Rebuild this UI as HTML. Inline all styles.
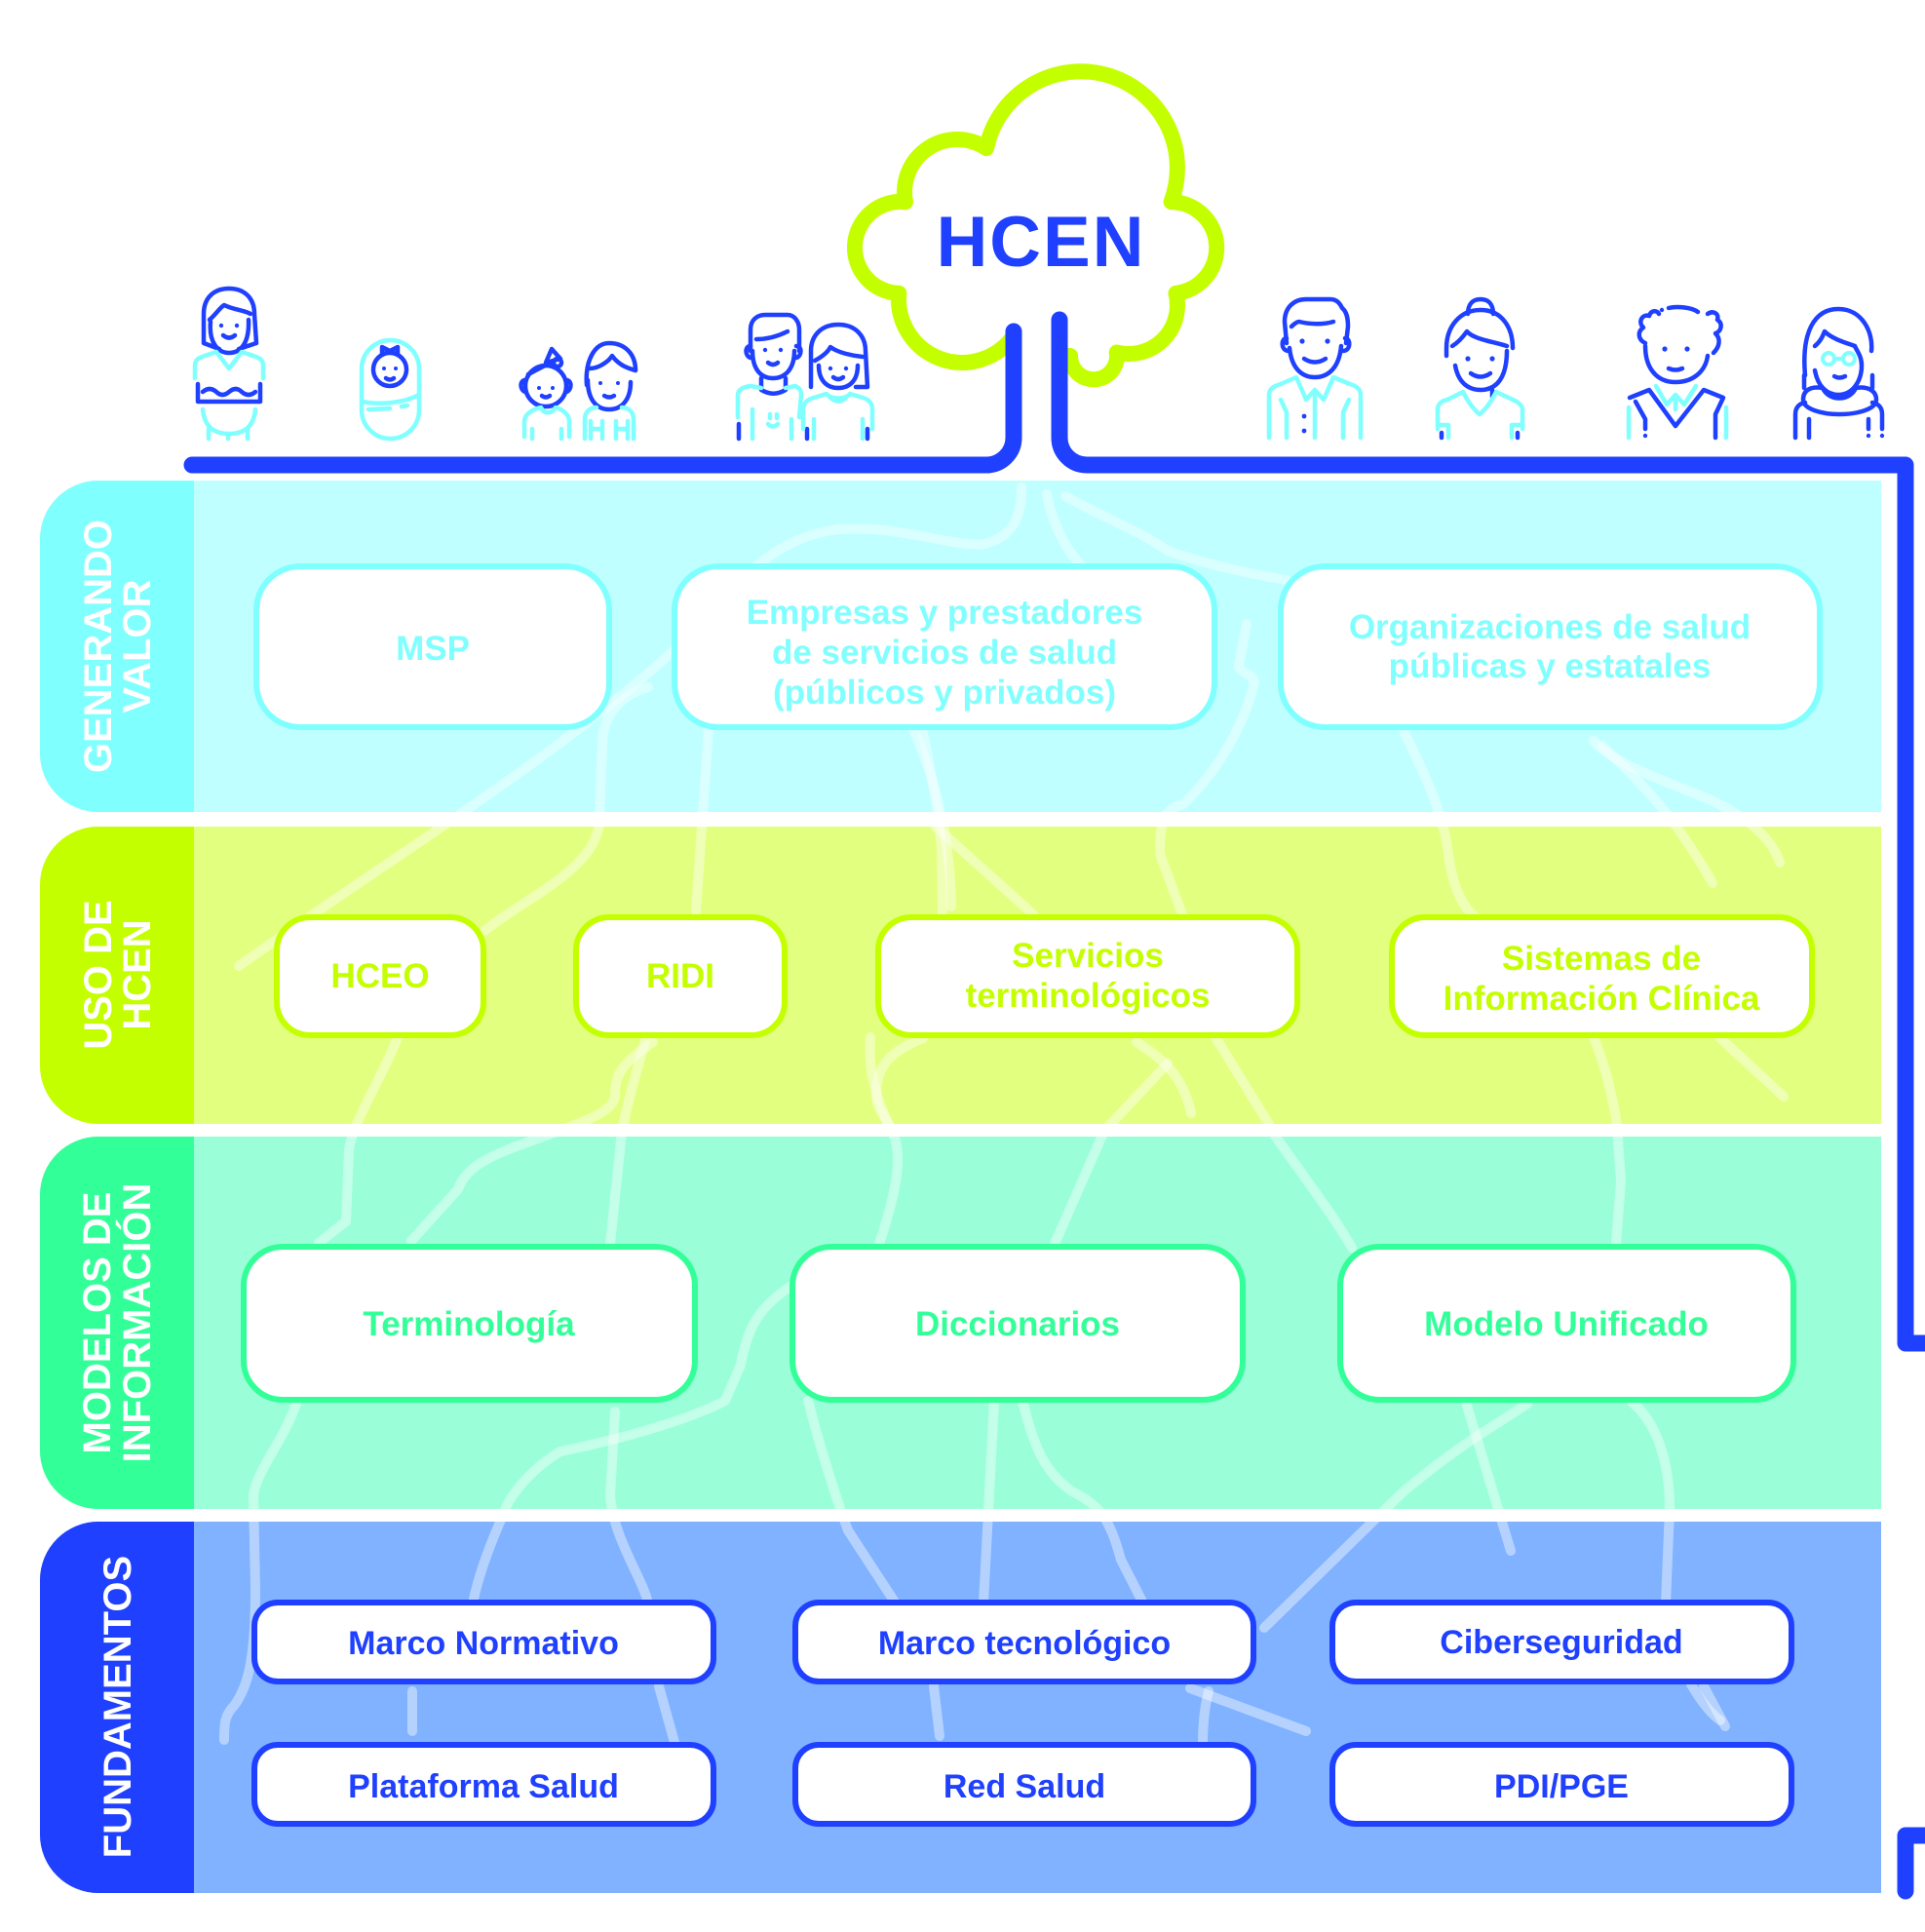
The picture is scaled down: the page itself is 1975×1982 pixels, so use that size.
<!DOCTYPE html>
<html><head><meta charset="utf-8">
<style>
html,body{margin:0;padding:0;background:#fff;}
body{width:1975px;height:1982px;overflow:hidden;}
svg{display:block;}
</style></head>
<body>
<svg xmlns="http://www.w3.org/2000/svg" width="1975" height="1982" viewBox="0 0 1975 1982">
<defs>
<clipPath id="bgclip">
<rect x="199" y="493" width="1731" height="340"/>
<rect x="199" y="848" width="1731" height="305"/>
<rect x="199" y="1166" width="1731" height="382"/>
<rect x="199" y="1561" width="1731" height="381"/>
</clipPath>
</defs>

<!-- Panels -->
<path d="M101 493 H1930 V833 H101 A60 60 0 0 1 41 773 V553 A60 60 0 0 1 101 493 Z" fill="#C0FFFF"/>
<path d="M101 493 H199 V833 H101 A60 60 0 0 1 41 773 V553 A60 60 0 0 1 101 493 Z" fill="#80FFFF"/>
<path d="M101 848 H1930 V1153 H101 A60 60 0 0 1 41 1093 V908 A60 60 0 0 1 101 848 Z" fill="#E3FF80"/>
<path d="M101 848 H199 V1153 H101 A60 60 0 0 1 41 1093 V908 A60 60 0 0 1 101 848 Z" fill="#C4FF00"/>
<path d="M101 1166 H1930 V1548 H101 A60 60 0 0 1 41 1488 V1226 A60 60 0 0 1 101 1166 Z" fill="#9AFFD9"/>
<path d="M101 1166 H199 V1548 H101 A60 60 0 0 1 41 1488 V1226 A60 60 0 0 1 101 1166 Z" fill="#33FF99"/>
<path d="M101 1561 H1930 V1942 H101 A60 60 0 0 1 41 1882 V1621 A60 60 0 0 1 101 1561 Z" fill="#80B2FF"/>
<path d="M101 1561 H199 V1942 H101 A60 60 0 0 1 41 1882 V1621 A60 60 0 0 1 101 1561 Z" fill="#1F40FF"/>

<!-- Roots -->
<g clip-path="url(#bgclip)" fill="none" stroke="#ffffff" stroke-opacity="0.42" stroke-width="10" stroke-linecap="round" stroke-linejoin="round">
<path d="M245 991 C400 880 600 760 720 640 C760 590 800 550 860 543 C920 538 980 562 1010 558 C1040 550 1048 530 1048 500"/>
<path d="M497 955 C540 920 615 890 615 840 L618 760 C620 730 640 712 665 705"/>
<path d="M727 748 L714 935"/>
<path d="M670 1069 C640 1090 631 1100 631 1123 C631 1140 600 1150 574 1160 C520 1180 480 1190 470 1220 L422 1273"/>
<path d="M937 748 C960 800 975 860 976 930"/>
<path d="M960 848 L1060 938"/>
<path d="M408 1064 C390 1110 362 1150 358 1180 L355 1253 L327 1275"/>
<path d="M663 1064 C650 1110 638 1150 636 1180 L626 1276"/>
<path d="M893 1064 C890 1100 900 1130 915 1160 C925 1180 924 1210 902 1276"/>
<path d="M1074 507 C1078 530 1090 560 1109 580"/>
<path d="M1093 509 C1130 530 1170 545 1198 565 C1240 580 1290 590 1320 595"/>
<path d="M1279 640 L1271 683 C1270 690 1285 690 1287 700 C1280 730 1260 780 1214 825 C1195 830 1190 840 1190 876 L1214 941"/>
<path d="M947 752 C955 790 963 833 966 870 L967 941"/>
<path d="M1441 752 C1460 790 1480 833 1485 870 C1490 910 1500 930 1514 941"/>
<path d="M1635 760 C1660 790 1740 810 1773 830 C1800 845 1820 865 1826 885"/>
<path d="M1644 765 C1680 800 1716 833 1757 906"/>
<path d="M947 1065 C910 1080 899 1095 899 1125 C900 1140 912 1150 915 1160"/>
<path d="M1166 1069 C1200 1090 1215 1110 1222 1142"/>
<path d="M1198 1091 L1133 1160 L1082 1276"/>
<path d="M1247 1064 L1303 1155 L1308 1165 C1340 1210 1370 1250 1387 1280"/>
<path d="M1635 1064 C1650 1100 1660 1150 1660 1170 L1663 1212 L1658 1276"/>
<path d="M1765 1065 L1830 1125"/>
<path d="M304 1440 C290 1480 262 1510 260 1535 L262 1630 C262 1700 255 1730 240 1750 C230 1760 230 1770 230 1785"/>
<path d="M631 1448 L626 1535 C630 1580 660 1620 665 1645"/>
<path d="M812 1319 C780 1340 767 1360 760 1400 L744 1437 C700 1460 620 1480 575 1489 C540 1510 520 1540 518 1550 C500 1590 490 1620 485 1645"/>
<path d="M829 1437 C840 1480 857 1535 870 1570 L919 1645"/>
<path d="M1020 1437 L1009 1645"/>
<path d="M1049 1437 C1060 1480 1070 1510 1100 1530 C1130 1545 1139 1560 1150 1600 L1173 1645"/>
<path d="M1505 1442 L1550 1591"/>
<path d="M1567 1440 C1530 1465 1500 1480 1440 1530 L1297 1670"/>
<path d="M1675 1439 C1700 1460 1713 1500 1713 1548 L1709 1645"/>
<path d="M423 1735 L423 1776"/>
<path d="M676 1730 L693 1791"/>
<path d="M958 1730 L964 1781"/>
<path d="M1221 1732 L1340 1776"/>
<path d="M1240 1735 C1236 1750 1234 1770 1234 1791"/>
<path d="M1748 1730 L1770 1771"/>
<path d="M1735 1728 C1745 1745 1755 1758 1765 1765"/>
</g>

<!-- Panel labels -->
<g font-family="'Liberation Sans', sans-serif" font-weight="bold" font-size="40" fill="#ffffff" text-anchor="middle">
<text transform="translate(114,663) rotate(-90)">GENERANDO</text>
<text transform="translate(154,663) rotate(-90)">VALOR</text>
<text transform="translate(114,1000) rotate(-90)">USO DE</text>
<text transform="translate(154,1000) rotate(-90)">HCEN</text>
<text transform="translate(113,1357) rotate(-90)">MODELOS DE</text>
<text transform="translate(154,1357) rotate(-90)">INFORMACIÓN</text>
<text transform="translate(134,1751) rotate(-90)">FUNDAMENTOS</text>
</g>

<!-- Boxes -->
<g fill="#ffffff" stroke-width="6">
<g stroke="#80FFFF">
<rect x="263" y="581" width="362" height="165" rx="45"/>
<rect x="692" y="581" width="554" height="165" rx="45"/>
<rect x="1314" y="581" width="553" height="165" rx="45"/>
</g>
<g stroke="#C4FF00">
<rect x="284" y="941" width="212" height="121" rx="34"/>
<rect x="591" y="941" width="214" height="121" rx="34"/>
<rect x="901" y="941" width="430" height="121" rx="34"/>
<rect x="1428" y="941" width="431" height="121" rx="34"/>
</g>
<g stroke="#33FF99">
<rect x="250" y="1279" width="463" height="157" rx="40"/>
<rect x="813" y="1279" width="462" height="157" rx="40"/>
<rect x="1375" y="1279" width="465" height="157" rx="40"/>
</g>
<g stroke="#1F40FF">
<rect x="261" y="1644" width="471" height="81" rx="24"/>
<rect x="816" y="1644" width="470" height="81" rx="24"/>
<rect x="1367" y="1644" width="471" height="81" rx="24"/>
<rect x="261" y="1790" width="471" height="81" rx="24"/>
<rect x="816" y="1790" width="470" height="81" rx="24"/>
<rect x="1367" y="1790" width="471" height="81" rx="24"/>
</g>
</g>

<!-- Box texts -->
<g font-family="'Liberation Sans', sans-serif" font-weight="bold" text-anchor="middle">
<g fill="#80FFFF" font-size="35">
<text x="444" y="677">MSP</text>
<text x="969" y="640">Empresas y prestadores</text>
<text x="969" y="681">de servicios de salud</text>
<text x="969" y="722">(públicos y privados)</text>
<text x="1590" y="655">Organizaciones de salud</text>
<text x="1590" y="695">públicas y estatales</text>
</g>
<g fill="#C4FF00" font-size="35">
<text x="390" y="1013">HCEO</text>
<text x="698" y="1013">RIDI</text>
<text x="1116" y="992">Servicios</text>
<text x="1116" y="1033">terminológicos</text>
<text x="1643" y="995">Sistemas de</text>
<text x="1643" y="1036">Información Clínica</text>
</g>
<g fill="#33FF99" font-size="35">
<text x="481" y="1370">Terminología</text>
<text x="1044" y="1370">Diccionarios</text>
<text x="1607" y="1370">Modelo Unificado</text>
</g>
<g fill="#1F40FF" font-size="34">
<text x="496" y="1697">Marco Normativo</text>
<text x="1051" y="1697">Marco tecnológico</text>
<text x="1602" y="1696">Ciberseguridad</text>
<text x="496" y="1844">Plataforma Salud</text>
<text x="1051" y="1844">Red Salud</text>
<text x="1602" y="1844">PDI/PGE</text>
</g>
</g>

<!-- Cloud -->
<path d="M1040 344.6 A65 65 0 0 1 922.3 300.9 A47 47 0 1 1 929 207.2 A54 54 0 0 1 1012 152.1 A99 99 0 1 1 1201.6 207.1 A47 47 0 0 1 1206.5 300.8 A50 50 0 0 1 1145.7 361.5 A24 24 0 1 1 1098 365 L1087 365 L1040 365 Z" fill="#ffffff" stroke="#C4FF00" stroke-width="16" stroke-linejoin="round"/>
<rect x="1048" y="300" width="31" height="110" fill="#ffffff"/>
<text x="1068" y="273" font-family="'Liberation Sans', sans-serif" font-weight="bold" font-size="73" fill="#1F40FF" text-anchor="middle" letter-spacing="2">HCEN</text>

<!-- Connectors -->
<g fill="none" stroke="#1F40FF" stroke-width="17" stroke-linecap="round" stroke-linejoin="round">
<path d="M1040 340 V449 A28 28 0 0 1 1012 477 H197"/>
<path d="M1087 328 V449 A28 28 0 0 0 1115 477 H1955 V1378 H1990"/>
<path d="M1955 1940 V1883 H1990"/>
</g>

<!-- People icons -->
<g fill="none" stroke-width="4.5" stroke-linecap="round" stroke-linejoin="round">
<!-- pregnant woman -->
<g stroke="#1F40FF">
<path d="M225 358 L209 352 L209 322 C209 305 220 296 235 296 C250 296 261 305 261 322 L263 352 L245 358"/>
<path d="M215 328 C222 322 226 315 230 313 C240 318 250 318 257 322"/>
<path d="M216 330 C214 352 224 362 235 362 C247 362 256 352 255 328"/>
<path d="M229 344 Q235 349 241 344"/>
<path d="M203 394 L203 412 L267 412 L267 394"/>
<path d="M208 402 Q215 396 222 402 Q228 408 235 402 Q242 396 248 402 Q255 408 262 402"/>
</g>
<g fill="#1F40FF"><circle cx="227" cy="334" r="2.2"/><circle cx="243" cy="334" r="2.2"/></g>
<g stroke="#80FFFF">
<path d="M200 388 L200 375 C200 369 204 367 210 365 L222 361 L235 378 L248 361 L260 365 C266 367 270 369 270 375 L270 388"/>
<path d="M208 420 C210 440 222 445 235 445 C248 445 260 440 262 420"/>
<path d="M214 440 L214 450 M234 445 L234 450 M254 440 L254 450"/>
</g>
<!-- baby -->
<g stroke="#80FFFF">
<rect x="371" y="349" width="59" height="101" rx="29.5"/>
<path d="M372 412 C390 416 415 413 430 405"/>
<path d="M378 420 L400 419 M412 417 L418 416"/>
</g>
<g stroke="#1F40FF">
<circle cx="400" cy="379" r="17"/>
<path d="M392 356 L408 364 L408 356 L392 364 Z"/>
<path d="M396 388 Q400 391 404 388"/>
</g>
<g fill="#1F40FF"><circle cx="394" cy="378" r="2"/><circle cx="406" cy="378" r="2"/></g>
<!-- girl & boy -->
<g stroke="#1F40FF">
<circle cx="560" cy="396" r="21"/>
<path d="M539 390 C533 390 533 400 539 402 M581 390 C587 390 587 400 581 402"/>
<path d="M560 372 L566 358 L575 368 Z"/>
<circle cx="572" cy="372" r="4"/>
<path d="M542 384 C550 380 560 374 566 372"/>
<path d="M556 406 Q560 409 564 406"/>
<path d="M602 395 C600 370 610 352 625 352 C640 352 652 362 652 380"/>
<path d="M603 390 C603 410 612 420 625 420 C638 420 647 410 647 392"/>
<path d="M605 378 C615 378 625 370 628 365 C635 375 645 378 652 380"/>
<path d="M620 406 Q625 409 630 406"/>
</g>
<g fill="#1F40FF"><circle cx="553" cy="398" r="2"/><circle cx="567" cy="398" r="2"/><circle cx="616" cy="393" r="2"/><circle cx="634" cy="393" r="2"/></g>
<g stroke="#80FFFF">
<path d="M538 448 L538 432 C538 426 545 420 555 418 C558 425 566 425 570 418 C578 420 584 426 584 432 L584 448"/>
<path d="M546 440 L546 450 M576 440 L576 450"/>
<path d="M600 450 L600 430 C600 422 606 418 612 418 M650 450 L650 430 C650 422 644 418 638 418"/>
<path d="M606 440 L618 440 M606 432 L606 450 M618 432 L618 450 M632 440 L644 440 M632 432 L632 450 M644 432 L644 450"/>
</g>
<!-- couple -->
<g stroke="#1F40FF">
<path d="M770 360 L770 338 C770 328 777 323 785 323 L808 323 C815 323 820 330 820 338 L820 360"/>
<path d="M772 360 C772 378 780 388 793 388 C806 388 815 378 815 360"/>
<path d="M776 348 C790 348 800 344 808 340"/>
<path d="M770 355 C764 355 764 365 770 367 M817 355 C823 355 823 365 817 367"/>
<path d="M788 372 Q793 376 798 372"/>
<path d="M781 388 L781 400 C790 405 797 405 806 400 L806 388"/>
<path d="M758 435 L758 450 M828 440 L828 450 M890 440 L890 450"/>
<path d="M832 397 L832 360 C832 345 842 333 860 333 C878 333 888 345 888 360 L890 397 L878 397"/>
<path d="M840 375 C840 390 848 398 860 398 C872 398 880 390 880 375"/>
<path d="M836 370 C845 365 850 360 852 356 C860 362 875 365 885 366"/>
<path d="M855 387 Q860 391 865 387"/>
</g>
<g fill="#1F40FF"><circle cx="785" cy="359" r="2.2"/><circle cx="801" cy="359" r="2.2"/><circle cx="852" cy="378" r="2.2"/><circle cx="868" cy="378" r="2.2"/></g>
<g stroke="#80FFFF">
<path d="M757 428 L757 405 C757 400 762 397 770 396 L781 398"/>
<path d="M806 398 L816 396 C820 398 822 400 822 405 L820 428"/>
<path d="M772 420 L772 450 M812 430 L812 450"/>
<path d="M788 435 Q793 440 798 435 M790 425 L790 429 M797 425 L797 429"/>
<path d="M824 440 L824 420 C824 412 830 409 838 407 L848 404 C852 410 868 410 872 404 L882 407 C890 409 895 412 895 420 L895 440"/>
<path d="M852 408 Q860 415 868 408 M835 430 L835 450 M885 430 L885 450"/>
</g>
<!-- right man -->
<g stroke="#1F40FF">
<path d="M1320 352 L1318 330 C1318 315 1328 307 1340 307 L1365 307 C1372 307 1375 312 1377 316 C1382 320 1383 327 1383 335 L1381 352"/>
<path d="M1325 335 C1330 330 1332 330 1333 330 C1345 333 1358 333 1368 330"/>
<path d="M1323 357 C1325 377 1335 387 1349 387 C1363 387 1374 377 1376 355"/>
<path d="M1320 347 C1314 347 1314 360 1322 360 M1380 347 C1386 347 1386 360 1378 360"/>
<path d="M1338 368 Q1349 375 1360 368"/>
</g>
<g fill="#1F40FF"><circle cx="1336" cy="350" r="2.6"/><circle cx="1362" cy="350" r="2.6"/><circle cx="1338" cy="427" r="2.4"/><circle cx="1338" cy="442" r="2.4"/></g>
<g stroke="#80FFFF">
<path d="M1302 449 L1302 405 C1302 398 1308 396 1314 394 L1330 387 L1340 410 L1349 400 L1358 410 L1368 387 L1385 394 C1392 396 1396 400 1396 405 L1396 449"/>
<path d="M1349 400 L1349 449 M1314 410 L1320 423 L1320 449 M1384 410 L1378 423 L1378 449"/>
</g>
<!-- right woman bun -->
<g stroke="#1F40FF">
<path d="M1506 322 C1506 312 1511 307 1519 307 C1527 307 1532 312 1532 322"/>
<path d="M1484 365 L1484 357 C1484 335 1498 318 1519 318 C1540 318 1552 335 1552 357"/>
<path d="M1490 355 C1495 352 1500 347 1505 340 C1512 348 1530 350 1546 355"/>
<path d="M1493 375 C1496 392 1506 400 1519 400 C1535 400 1546 388 1546 360"/>
<path d="M1509 383 Q1519 390 1529 383 M1531 400 L1531 407"/>
<path d="M1479 444 L1479 449 M1557 444 L1557 449"/>
</g>
<g fill="#1F40FF"><circle cx="1506" cy="368" r="2.6"/><circle cx="1531" cy="368" r="2.6"/></g>
<g stroke="#80FFFF">
<path d="M1475 440 L1475 420 C1475 414 1480 411 1485 410 L1501 402 C1506 412 1512 420 1518 425 C1524 420 1530 412 1535 402 L1552 410 C1557 412 1562 416 1562 420 L1562 440"/>
<path d="M1475 436 L1486 436 L1486 449 M1562 436 L1551 436 L1551 449"/>
</g>
<!-- old man -->
<g stroke="#1F40FF">
<path d="M1688 352 C1680 348 1680 340 1686 336 C1680 330 1685 322 1692 324 C1694 318 1700 318 1702 322"/>
<path d="M1752 322 C1758 318 1764 322 1762 328 C1768 332 1766 340 1760 342 C1766 348 1764 356 1758 362"/>
<path d="M1712 316 C1720 314 1735 315 1742 320"/>
<path d="M1688 355 C1688 378 1700 392 1719 392 C1738 392 1750 380 1752 365"/>
<path d="M1712 378 Q1719 381 1726 378"/>
<path d="M1672 408 L1692 400 L1719 437 L1748 400 L1768 408 L1760 425 L1760 449"/>
<path d="M1678 412 L1688 430 L1688 440"/>
</g>
<g fill="#1F40FF"><circle cx="1708" cy="358" r="2.6"/><circle cx="1731" cy="358" r="2.6"/><circle cx="1705" cy="318" r="2.2"/><circle cx="1688" cy="447" r="2.2"/></g>
<g stroke="#80FFFF">
<path d="M1699 396 L1710 415 L1719 405 L1728 415 L1740 396 M1719 405 L1719 420"/>
<path d="M1671 418 L1671 449 M1771 418 L1771 449"/>
</g>
<!-- woman glasses -->
<g stroke="#1F40FF">
<path d="M1852 385 C1848 340 1862 317 1886 317 C1910 317 1922 340 1920 360"/>
<path d="M1862 380 C1865 396 1874 405 1886 405 C1900 405 1910 392 1910 375 C1910 365 1905 360 1903 355"/>
<path d="M1862 355 C1868 350 1870 345 1872 340 C1880 348 1895 352 1903 355"/>
<path d="M1882 386 Q1887 389 1893 386"/>
<path d="M1850 410 C1850 400 1858 396 1870 398 C1876 412 1898 412 1904 398 C1915 396 1925 400 1925 410 C1925 420 1905 425 1887 425 C1870 425 1850 420 1850 410"/>
<path d="M1851 385 L1851 398 M1921 385 L1921 398"/>
<path d="M1842 449 L1842 425 C1842 418 1846 414 1852 413 M1931 440 L1931 425 C1931 418 1927 414 1921 413"/>
<path d="M1856 430 L1856 449 M1917 430 L1917 440"/>
</g>
<g fill="#1F40FF"><circle cx="1917" cy="447" r="2.2"/><circle cx="1931" cy="447" r="2.2"/></g>
<g stroke="#80FFFF" stroke-width="4">
<circle cx="1876" cy="368" r="6"/><circle cx="1897" cy="368" r="6"/>
<path d="M1882 368 L1891 368"/>
</g>
</g>
</svg>
</body></html>
